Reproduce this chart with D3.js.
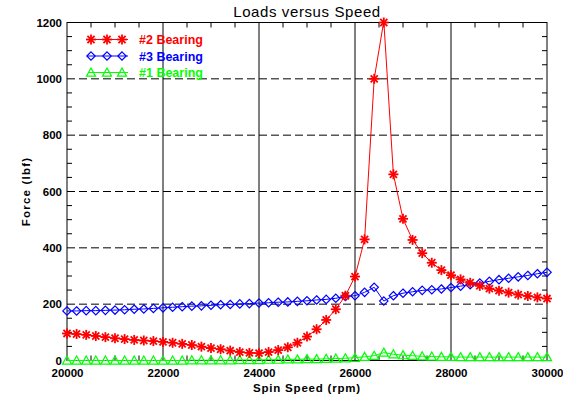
<!DOCTYPE html>
<html>
<head>
<meta charset="utf-8">
<script src="https://cdn.jsdelivr.net/npm/d3@7"></script>
<style>
  body { margin: 0; background: #fff; }
  svg { display: block; }
  text { font-family: "Liberation Sans", Arial, sans-serif; }
</style>
</head>
<body>
<svg id="chart" width="563" height="397"></svg>
<script>
// Spin speed samples (rpm)
const rpm = [
  20000, 20200, 20400, 20600, 20800, 21000, 21200, 21400, 21600, 21800,
  22000, 22200, 22400, 22600, 22800, 23000, 23200, 23400, 23600, 23800,
  24000, 24200, 24400, 24600, 24800, 25000, 25200, 25400, 25600, 25800,
  26000, 26200, 26400, 26600, 26800, 27000, 27200, 27400, 27600, 27800,
  28000, 28200, 28400, 28600, 28800, 29000, 29200, 29400, 29600, 29800,
  30000
];

// Force (lbf) per bearing
const bearing2 = [
  96, 94, 91, 87, 83, 79, 76, 73, 71, 69,
  66, 63, 59, 55, 49, 44, 40, 35, 30, 27,
  26, 30, 37, 47, 63, 85, 111, 144, 182, 230,
  298, 430, 1000, 1205, 661, 503, 428, 381, 347, 321,
  303, 288, 276, 265, 255, 248, 241, 234, 229, 224,
  220
];
const bearing3 = [
  176, 176, 177, 177, 178, 179, 180, 182, 183, 185,
  187, 189, 191, 193, 194, 196, 198, 199, 201, 202,
  204, 205, 207, 208, 210, 212, 215, 217, 221, 227,
  230, 242, 260, 211, 230, 239, 244, 249, 251, 254,
  259, 264, 269, 275, 281, 287, 292, 297, 302, 308,
  313
];
const bearing1 = [
  0, 0, 0, 0, 0, 0, 0, 0, 0, 0,
  0, 0, 0, 1, 1, 1, 1, 1, 2, 2,
  2, 3, 3, 4, 4, 5, 5, 6, 7, 8,
  10, 13, 17, 28, 22, 19, 17, 15, 14, 13,
  13, 12, 12, 12, 12, 12, 12, 12, 12, 12,
  12
];

const xTicks = [20000, 22000, 24000, 26000, 28000, 30000];
const yTicks = [0, 200, 400, 600, 800, 1000, 1200];

const series = [
  { name: "#2 Bearing", values: bearing2, color: "#ff0000", symbol: "asterisk" },
  { name: "#3 Bearing", values: bearing3, color: "#0000ff", symbol: "diamond" },
  { name: "#1 Bearing", values: bearing1, color: "#00ff00", symbol: "triangle" },
];

const margin = { top: 22.5, right: 16, bottom: 36.5, left: 67 };
const width = 563, height = 397;

const $svg = d3.select("#chart");

const x = d3.scaleLinear().domain([20000, 30000]).range([margin.left, width - margin.right]);
const y = d3.scaleLinear().domain([0, 1200]).range([height - margin.bottom, margin.top]);

const [x0, x1] = x.range();
const [y0, y1] = y.range();

// Grid: solid vertical, dashed horizontal
$svg.append("g")
  .selectAll("line")
  .data(xTicks.slice(1, -1))
  .join("line")
    .attr("x1", d => x(d)).attr("x2", d => x(d))
    .attr("y1", y1).attr("y2", y0)
    .attr("stroke", "#000").attr("stroke-width", 1);

$svg.append("g")
  .selectAll("line")
  .data(yTicks.slice(1, -1))
  .join("line")
    .attr("x1", x0).attr("x2", x1)
    .attr("y1", d => y(d)).attr("y2", d => y(d))
    .attr("stroke", "#000").attr("stroke-width", 1)
    .attr("stroke-dasharray", "8,4");

// Minor ticks on all four sides, pointing inward
const xMinor = d3.range(20500, 30000, 500).filter(d => d % 2000 !== 0);
const yMinor = d3.range(50, 1200, 50).filter(d => d % 200 !== 0);
const tickLen = 5;
const $minor = $svg.append("g").attr("stroke", "#000").attr("stroke-width", 1);
xMinor.forEach(d => {
  $minor.append("line").attr("x1", x(d)).attr("x2", x(d)).attr("y1", y0).attr("y2", y0 - tickLen);
  $minor.append("line").attr("x1", x(d)).attr("x2", x(d)).attr("y1", y1).attr("y2", y1 + tickLen);
});
yMinor.forEach(d => {
  $minor.append("line").attr("y1", y(d)).attr("y2", y(d)).attr("x1", x0).attr("x2", x0 + tickLen);
  $minor.append("line").attr("y1", y(d)).attr("y2", y(d)).attr("x1", x1).attr("x2", x1 - tickLen);
});

// Frame
$svg.append("rect")
  .attr("x", x0).attr("y", y1)
  .attr("width", x1 - x0).attr("height", y0 - y1)
  .attr("fill", "none").attr("stroke", "#000").attr("stroke-width", 1);

// Axes labels via d3 axes
const xAxis = d3.axisBottom(x).tickValues(xTicks).tickSize(0).tickPadding(8).tickFormat(d3.format("d"));
const yAxis = d3.axisLeft(y).tickValues(yTicks).tickSize(0).tickPadding(5).tickFormat(d3.format("d"));

$svg.append("g")
  .attr("transform", `translate(0,${y0})`)
  .call(xAxis)
  .call(g => g.select(".domain").remove())
  .call(g => g.selectAll("text")
    .attr("font-family", "Liberation Sans, Arial, sans-serif")
    .attr("font-size", 11.5).attr("font-weight", "bold").attr("fill", "#000"));

$svg.append("g")
  .attr("transform", `translate(${x0},0)`)
  .call(yAxis)
  .call(g => g.select(".domain").remove())
  .call(g => g.selectAll("text")
    .attr("font-family", "Liberation Sans, Arial, sans-serif")
    .attr("font-size", 11.5).attr("font-weight", "bold").attr("fill", "#000"));

// Titles
$svg.append("text")
  .attr("x", (x0 + x1) / 2).attr("y", 17)
  .attr("text-anchor", "middle")
  .attr("font-size", 15).attr("letter-spacing", 0.6)
  .text("Loads versus Speed");

$svg.append("text")
  .attr("x", (x0 + x1) / 2).attr("y", 392)
  .attr("text-anchor", "middle")
  .attr("font-size", 11.5).attr("font-weight", "bold").attr("letter-spacing", 0.8)
  .text("Spin Speed (rpm)");

$svg.append("text")
  .attr("transform", `translate(30,${(y0 + y1) / 2}) rotate(-90)`)
  .attr("text-anchor", "middle")
  .attr("font-size", 11.5).attr("font-weight", "bold").attr("letter-spacing", 1.2)
  .text("Force (lbf)");

// Symbols
function drawSymbol(g, symbol, color) {
  if (symbol === "asterisk") {
    const r = 5;
    [0, 45, 90, 135].forEach(a => {
      const rad = a * Math.PI / 180;
      g.append("line")
        .attr("x1", -r * Math.cos(rad)).attr("y1", -r * Math.sin(rad))
        .attr("x2", r * Math.cos(rad)).attr("y2", r * Math.sin(rad))
        .attr("stroke", color).attr("stroke-width", 1.8);
    });
  } else if (symbol === "diamond") {
    const r = 4.2;
    g.append("path")
      .attr("d", `M0,${-r}L${r},0L0,${r}L${-r},0Z`)
      .attr("fill", "none").attr("stroke", color).attr("stroke-width", 1.2);
  } else {
    const r = 4.5;
    g.append("path")
      .attr("d", `M0,${-r}L${r},${r * 0.8}L${-r},${r * 0.8}Z`)
      .attr("fill", "none").attr("stroke", color).attr("stroke-width", 1.2);
  }
}

const line = d3.line().x((d, i) => x(rpm[i])).y(d => y(d));

// Draw in order: green, blue, red (red on top)
[...series].reverse().forEach(s => {
  const $g = $svg.append("g");
  $g.append("path")
    .datum(s.values)
    .attr("d", line)
    .attr("fill", "none")
    .attr("stroke", s.color)
    .attr("stroke-width", 1);
  $g.selectAll("g.pt")
    .data(s.values)
    .join("g")
      .attr("class", "pt")
      .attr("transform", (d, i) => `translate(${x(rpm[i])},${y(Math.min(d, 1200))})`)
      .each(function () { drawSymbol(d3.select(this), s.symbol, s.color); });
});

// Legend
const legendX = [88, 128];
const legendMarks = [91, 107, 122];
series.forEach((s, i) => {
  const ly = 39.5 + i * 16.5;
  const $lg = $svg.append("g");
  $lg.append("line")
    .attr("x1", legendX[0]).attr("x2", legendX[1])
    .attr("y1", ly).attr("y2", ly)
    .attr("stroke", s.color).attr("stroke-width", 1);
  legendMarks.forEach(mx => {
    drawSymbol($lg.append("g").attr("transform", `translate(${mx},${ly})`), s.symbol, s.color);
  });
  $lg.append("text")
    .attr("x", 139).attr("y", ly + 4.5)
    .attr("font-size", 12.5).attr("font-weight", "bold")
    .attr("fill", s.color)
    .text(s.name);
});
</script>
</body>
</html>
